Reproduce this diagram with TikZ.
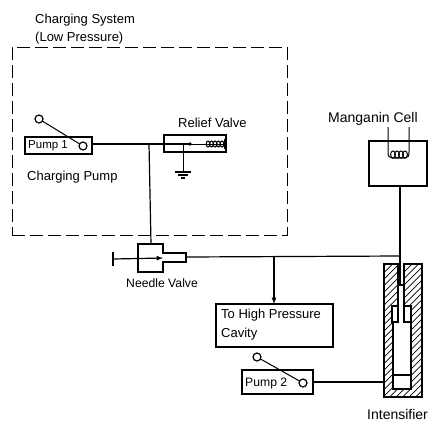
\documentclass[tikz,border=0pt]{standalone}
\usepackage{fontspec}
\setmainfont{Liberation Sans}
\usepackage{tikz}
\usetikzlibrary{positioning}

\begin{document}
\begin{tikzpicture}[x=1pt,y=-1pt]
\tikzstyle{box}=[rectangle, draw=black, line width=1.2pt, inner sep=0pt, outer sep=0pt]
\tikzstyle{port}=[circle, draw=black, line width=1.2pt, fill=white, inner sep=0pt, outer sep=0pt, minimum size=8pt]
\tikzstyle{txt}=[inner sep=0pt, anchor=west, font=\fontsize{13}{15}\selectfont]
\tikzstyle{small}=[font=\fontsize{11.5}{13}\selectfont]
\tikzstyle{medium}=[font=\fontsize{12.2}{14}\selectfont]
\tikzstyle{large}=[font=\fontsize{14}{16}\selectfont]
\tikzstyle{connect}=[line width=1.2pt]
\tikzstyle{flow}=[-latex, line width=1.2pt]
\tikzstyle{wire}=[line width=1pt]
\tikzstyle{hatch}=[line width=0.7pt]
\useasboundingbox (0,0) rectangle (428,421);

	% charging system
	\node[box, line width=1pt, dash pattern=on 13pt off 5pt, minimum width=275pt, minimum height=188pt] (charging) at (149.5,141) []{};
	\node[txt] (t_charging) at (35,20) []{Charging System};
	\node[txt] (t_low) at (35,38) []{(Low Pressure)};

	% pump 1
	\node[box, minimum width=67pt, minimum height=17pt] (pump_1) at (58.5,145.5) []{};
	\node[port] (p1_a) at (39,119) []{};
	\node[port] (p1_b) at (83,146) []{};
	\node[txt, small] (t_pump_1) at (28,146) []{Pump 1};
	\node[txt] (t_charging_pump) at (27,177) []{Charging Pump};

	% relief valve
	\node[box, minimum width=62pt, minimum height=17pt] (relief) at (195,143.5) []{};
	\node[txt] (t_relief) at (178,123) []{Relief Valve};
	\coordinate (j_1) at (149,144);
	\coordinate (r_dot) at (190,144);
	\coordinate (r_coil) at (206,144);
	\coordinate (r_tap) at (183,144);
	\coordinate (r_end_u) at (225,139);
	\coordinate (r_end_d) at (225,149);
	\coordinate (gnd) at (183,172);
	\coordinate (gnd_l1) at (175,172);
	\coordinate (gnd_r1) at (191,172);
	\coordinate (gnd_l2) at (178,175);
	\coordinate (gnd_r2) at (188,175);
	\coordinate (gnd_l3) at (181,178);
	\coordinate (gnd_r3) at (185,178);

	% needle valve
	\coordinate (nv_top) at (151,244);
	\coordinate (nv_tip) at (186,257);
	\coordinate (nv_pin) at (163,258);
	\coordinate (nv_bar) at (113,259);
	\coordinate (nv_bar_u) at (113,252);
	\coordinate (nv_bar_d) at (113,266);
	\draw[connect] (138,244) -- (163,244) -- (163,253) -- (186,253) -- (186,262) -- (163,262) -- (163,272) -- (138,272) -- cycle;
	\node[txt, medium] (t_needle) at (126,283) []{Needle Valve};

	% high pressure cavity
	\node[box, minimum width=117pt, minimum height=43pt] (cavity) at (274.5,325.5) []{};
	\coordinate (j_2) at (274,256.5);
	\coordinate (j_3) at (400,256);
	\node[txt] (t_cavity_1) at (221,315) []{To High Pressure};
	\node[txt] (t_cavity_2) at (221,334) []{Cavity};

	% pump 2
	\node[box, minimum width=71pt, minimum height=24pt] (pump_2) at (277.5,382) []{};
	\node[port] (p2_a) at (257,357) []{};
	\node[port] (p2_b) at (303,383) []{};
	\node[txt, medium] (t_pump_2) at (245,383) []{Pump 2};

	% manganin cell
	\node[box, minimum width=58pt, minimum height=45pt] (cell) at (398,163.5) []{};
	\node[txt, large] (t_manganin) at (328,119) []{Manganin Cell};
	\coordinate (c_l) at (388,127);
	\coordinate (c_r) at (409,127);
	\coordinate (c_out) at (400,186);
	\draw[wire] (c_l) -- (388,152) .. controls (388,156) and (389,158) .. (392,158) -- (405,158) .. controls (408,158) and (409,156) .. (c_r |- 0,152) -- (c_r);
	\foreach \x in {393,397,401,405}
		\draw[wire] (\x,154.5) ellipse (2.4pt and 3.5pt);

	% intensifier
	\begin{scope}
	\clip (384,264) -- (398,264) -- (398,306) -- (393,306) -- (393,389) -- (411,389) -- (411,306) -- (404,306) -- (404,264) -- (422,264) -- (422,397) -- (384,397) -- cycle;
	\foreach \x in {250,256.5,...,425}
		\draw[hatch] (\x,400) -- ++(140,-140);
	\end{scope}
	\draw[connect] (384,264) -- (398,264) -- (398,306) -- (393,306) -- (393,389) -- (411,389) -- (411,306) -- (404,306) -- (404,264) -- (422,264) -- (422,397) -- (384,397) -- cycle;
	\node[box, fill=white, minimum width=6pt, minimum height=16pt] (seal_l) at (395,314) []{};
	\node[box, fill=white, minimum width=7pt, minimum height=16pt] (seal_r) at (407.5,314) []{};
	\coordinate (rod_l) at (398,285);
	\coordinate (rod_r) at (404,285);
	\coordinate (rod) at (400,285);
	\coordinate (pist_l) at (393,375);
	\coordinate (pist_r) at (411,375);
	\coordinate (int_in) at (385,382);
	\node[txt, large] (t_intensifier) at (367,414) []{Intensifier};

	\path
	 (p1_a) edge[wire] (p1_b)
	 (p2_a) edge[wire] (p2_b)
	 (pump_1.east |- r_tap) edge[connect] (relief.west |- r_tap)
	 (j_1) edge[connect] (nv_top)
	 (relief.west |- r_tap) edge[connect] (r_dot)
	 (r_dot) edge[wire] (r_coil)
	 (r_coil) edge[wire] (r_end_u |- r_coil)
	 (r_end_u) edge[line width=1.8pt] (r_end_d)
	 (r_tap) edge[wire] (gnd)
	 (gnd_l1) edge[connect] (gnd_r1)
	 (gnd_l2) edge[connect] (gnd_r2)
	 (gnd_l3) edge[connect] (gnd_r3)
	 (nv_bar_u) edge[line width=1.6pt] (nv_bar_d)
	 (nv_bar) edge[flow] (nv_pin)
	 (nv_tip) edge[connect] (j_3)
	 (j_2) edge[flow] (cavity.north -| j_2)
	 (pump_2.east |- int_in) edge[connect] (int_in)
	 (c_out) edge[connect] (rod)
	 (rod_l) edge[connect] (rod_r)
	 (pist_l) edge[line width=1.4pt] (pist_r);

	\foreach \x in {208,211.5,215,218.5,222}
		\draw[wire] (\x,144) ellipse (1.8pt and 3pt);
	\fill (r_dot) circle (1.8pt);

\end{tikzpicture}
\end{document}
